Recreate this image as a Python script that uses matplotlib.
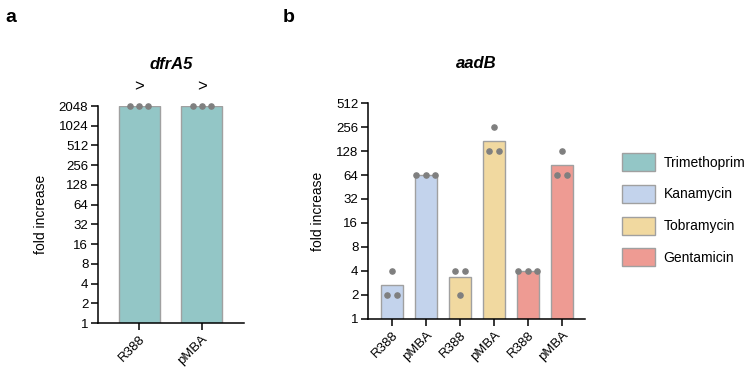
import numpy as np
import matplotlib.pyplot as plt

plt.rcParams['font.family'] = ['Liberation Sans', 'DejaVu Sans']

# Veriler
groups_a = ["R388", "pMBA"]
points_a = [[2048, 2048, 2048], [2048, 2048, 2048]]

groups_b = ["R388", "pMBA", "R388", "pMBA", "R388", "pMBA"]
drugs_b = ["Kanamycin", "Kanamycin", "Tobramycin", "Tobramycin", "Gentamicin", "Gentamicin"]
points_b = [[4, 2, 2], [64, 64, 64], [4, 4, 2], [256, 128, 128], [4, 4, 4], [128, 64, 64]]

drug_names = ["Trimethoprim", "Kanamycin", "Tobramycin", "Gentamicin"]
drug_colors = {"Trimethoprim": "#93c6c6", "Kanamycin": "#c3d3ec",
               "Tobramycin": "#f1d9a0", "Gentamicin": "#ee9b93"}

edge = "#a0a0a0"
dot = "#7f7f7f"


def scatter_offsets(vals, step):
    # ayni degerdeki noktalari yana yay
    offs = np.zeros(len(vals))
    for v in set(vals):
        idx = [i for i, x in enumerate(vals) if x == v]
        n = len(idx)
        for k, i in enumerate(idx):
            offs[i] = (k - (n - 1) / 2) * step
    return offs


def style_axis(ax, ymax, labels):
    ax.set_yscale("log", base=2)
    ax.set_ylim(1, ymax)
    ticks = [2 ** i for i in range(int(np.log2(ymax)) + 1)]
    ax.set_yticks(ticks)
    ax.set_yticklabels([str(t) for t in ticks])
    ax.minorticks_off()
    ax.set_xticks(range(len(labels)))
    ax.set_xticklabels(labels, rotation=45, ha="right", va="top",
                       rotation_mode="anchor")
    for s in ["top", "right"]:
        ax.spines[s].set_visible(False)
    for s in ["left", "bottom"]:
        ax.spines[s].set_linewidth(1.1)
    ax.tick_params(axis="both", length=5, width=1.1, labelsize=9.5, pad=2)
    ax.set_ylabel("fold increase", fontsize=10, labelpad=8)


fig = plt.figure(figsize=(7.5, 3.72), dpi=100)

# Panel a
ax1 = fig.add_axes([0.1307, 0.1317, 0.1947, 0.5833])
for i, pts in enumerate(points_a):
    ax1.bar(i, np.mean(pts), width=0.66, color=drug_colors["Trimethoprim"],
            edgecolor=edge, linewidth=1.0, zorder=2)
    ax1.scatter(i + scatter_offsets(pts, 0.145), pts, s=14, color=dot,
                zorder=3, clip_on=False)
    ax1.text(i, 3100, ">", ha="center", va="bottom", fontsize=12)
ax1.set_xlim(-0.66, 1.68)
style_axis(ax1, 2048, groups_a)
ax1.set_title("dfrA5", fontsize=12, fontweight="bold", style="italic", pad=27)

# Panel b
ax2 = fig.add_axes([0.4907, 0.1425, 0.2893, 0.5806])
for i, pts in enumerate(points_b):
    ax2.bar(i, np.mean(pts), width=0.65, color=drug_colors[drugs_b[i]],
            edgecolor=edge, linewidth=1.0, zorder=2)
    ax2.scatter(i + scatter_offsets(pts, 0.28), pts, s=14, color=dot,
                zorder=3, clip_on=False)
ax2.set_xlim(-0.7, 5.68)
style_axis(ax2, 512, groups_b)
ax2.set_title("aadB", fontsize=12, fontweight="bold", style="italic", pad=25)

# Lejant
handles = [plt.Rectangle((0, 0), 1, 1, facecolor=drug_colors[d], edgecolor=edge,
                         linewidth=1.0) for d in drug_names]
fig.legend(handles, drug_names, loc="upper left", bbox_to_anchor=(0.829, 0.588),
           frameon=False, fontsize=10, handlelength=2.4, handleheight=1.6,
           labelspacing=1.0, handletextpad=0.6, borderaxespad=0, borderpad=0)

fig.text(0.007, 0.975, "a", fontsize=14, fontweight="bold", va="top")
fig.text(0.377, 0.975, "b", fontsize=14, fontweight="bold", va="top")

fig.savefig("out.png", dpi=100)
